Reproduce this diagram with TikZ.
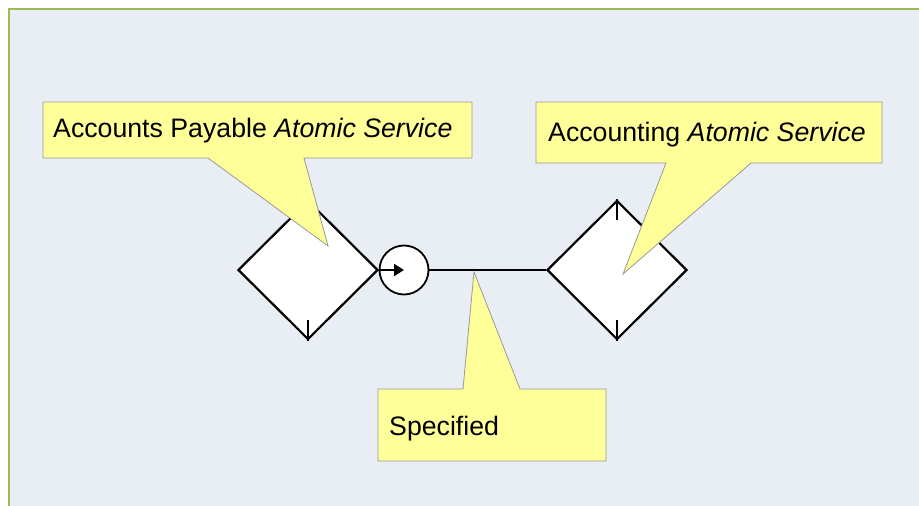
\documentclass[tikz,border=0pt]{standalone}
\usepackage{fontspec}
\setmainfont{Liberation Sans}
\usetikzlibrary{shapes.geometric,arrows.meta}
\definecolor{panel}{HTML}{E9EDF4}
\definecolor{panelline}{HTML}{9BBB59}
\definecolor{note}{HTML}{FFFF99}

\begin{document}
\begin{tikzpicture}[x=1pt, y=-1pt,
  service/.style={diamond, draw, fill=white, line width=2.2pt, inner sep=0pt, minimum width=140pt, minimum height=139pt},
  prov/.style={circle, draw, fill=white, line width=1.8pt, inner sep=0pt, minimum size=49pt},
  callout/.style={fill=note, draw=black!40, line width=0.8pt},
  notetext/.style={anchor=base west, inner sep=0pt, font=\fontsize{26.7}{31}\selectfont}]
\useasboundingbox (0,0) rectangle (919,506);
\draw[fill=panel, draw=panelline, line width=2pt] (9,9) rectangle (935,520);
\node[service] (ap) at (308,270) {};
\node[service] (acc) at (617,270) {};
\node[prov] (port) at (404,270) {};
\foreach \s in {ap,acc} {
  \draw[line width=2.2pt] (\s.north) -- ++(0,21);
  \draw[line width=2.2pt] (\s.south) -- ++(0,-21);
}
\draw[line width=2.2pt, -{Triangle[length=10pt,width=12pt]}] (ap.east) -- (port.center);
\draw[line width=2.2pt] (port.east) -- (acc.west);
\coordinate (apTip) at (328,246);
\coordinate (accTip) at (623,274);
\coordinate (specTip) at (474,272);
\filldraw[callout] (43,102) -- (472,102) -- (472,158) -- (304,158) -- (apTip) -- (208,158) -- (43,158) -- cycle;
\node[notetext] (apText) at (53,137) {Accounts Payable \textit{Atomic Service}};
\filldraw[callout] (536,102) -- (882,102) -- (882,163) -- (751,163) -- (accTip) -- (666,163) -- (536,163) -- cycle;
\node[notetext] (accText) at (548,141) {Accounting \textit{Atomic Service}};
\filldraw[callout] (378,389) -- (463,389) -- (specTip) -- (520,389) -- (606,389) -- (606,461) -- (378,461) -- cycle;
\node[notetext] (specText) at (389,435) {Specified};
\end{tikzpicture}
\end{document}
